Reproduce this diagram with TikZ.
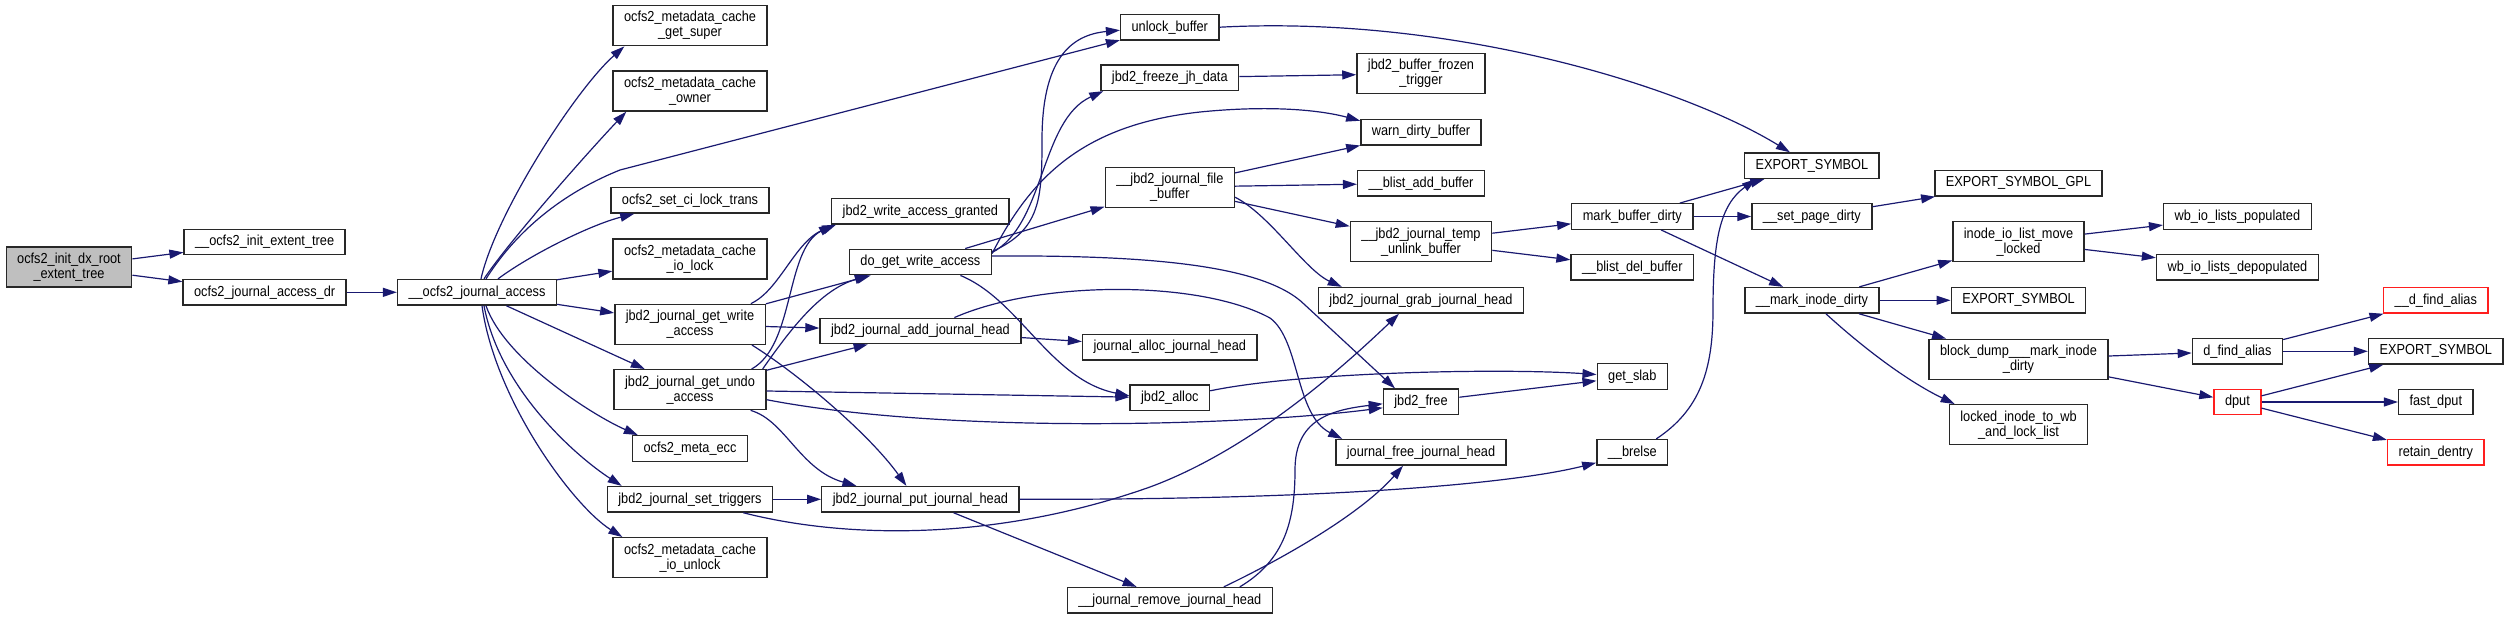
\documentclass[tikz,border=0pt]{standalone}
\usepackage{fontspec}
\newfontfamily\dxfont[FakeStretch=0.88]{Liberation Sans}
\usetikzlibrary{arrows.meta}
\definecolor{EdgeCol} {RGB}{25,25,112}
\definecolor{RootFill}{RGB}{191,191,191}
\definecolor{BoxLine} {RGB}{40,40,40}
\definecolor{RedLine} {RGB}{255,30,30}
\tikzset{
  nd_fn/.style={rectangle,draw=BoxLine,line width=1.4pt,fill=white,inner xsep=11pt,inner ysep=2pt,minimum height=25.5pt,align=center,font=\dxfont\fontsize{14.5}{15}\selectfont},
  nd_two/.style={nd_fn,minimum height=40pt},
  nd_root/.style={nd_two,fill=RootFill},
  nd_red/.style={nd_fn,draw=RedLine},
  arr/.style={draw=EdgeCol,line width=1.2pt,-{Triangle[length=14pt,width=9pt]}},
}
\begin{document}
\begin{tikzpicture}[x=1pt,y=-1pt]

\useasboundingbox (0,0) rectangle (2513,619);
\def\Xa{69}\def\Xb{264.6}\def\Xc{477}\def\Xd{690}\def\Xe{920.4}\def\Xf{1169.8}
\def\Xg{1421}\def\Xh{1632.3}\def\Xi{1811.9}\def\Xj{2018.5}\def\Xk{2237.4}\def\Xl{2435.8}

% ranks 1-3
\node[nd_root] at (\Xa,267)   (INIT){ocfs2\_init\_dx\_root\\\_extent\_tree};
\node[nd_fn]   at (\Xb,242)   (IEXT){\_\_ocfs2\_init\_extent\_tree};
\node[nd_fn]   at (\Xb,292.3) (ADR){ocfs2\_journal\_access\_dr};
\node[nd_fn]   at (\Xc,292.3) (JACC){\_\_ocfs2\_journal\_access};

% rank 4
\node[nd_two]  at (\Xd,25.7)  (GSUP){ocfs2\_metadata\_cache\\\_get\_super};
\node[nd_two]  at (\Xd,91)    (OWN){ocfs2\_metadata\_cache\\\_owner};
\node[nd_fn]   at (\Xd,200.3) (SCI){ocfs2\_set\_ci\_lock\_trans};
\node[nd_two]  at (\Xd,259)   (IOL){ocfs2\_metadata\_cache\\\_io\_lock};
\node[nd_two]  at (\Xd,324.3) (GWA){jbd2\_journal\_get\_write\\\_access};
\node[nd_two]  at (\Xd,389.7) (GUA){jbd2\_journal\_get\_undo\\\_access};
\node[nd_fn]   at (\Xd,448.5) (MECC){ocfs2\_meta\_ecc};
\node[nd_fn]   at (\Xd,499.3) (STR){jbd2\_journal\_set\_triggers};
\node[nd_two]  at (\Xd,557.7) (IOU){ocfs2\_metadata\_cache\\\_io\_unlock};

% rank 5
\node[nd_fn]   at (\Xe,211.3) (WAG){jbd2\_write\_access\_granted};
\node[nd_fn]   at (\Xe,262)   (DGWA){do\_get\_write\_access};
\node[nd_fn]   at (\Xe,331)   (AJH){jbd2\_journal\_add\_journal\_head};
\node[nd_fn]   at (\Xe,499.3) (PJH){jbd2\_journal\_put\_journal\_head};

% rank 6
\node[nd_fn]   at (\Xf,27.2)  (ULB){unlock\_buffer};
\node[nd_fn]   at (\Xf,77.7)  (FJD){jbd2\_freeze\_jh\_data};
\node[nd_two]  at (\Xf,187.2) (JFB){\_\_jbd2\_journal\_file\\\_buffer};
\node[nd_fn]   at (\Xf,347.2) (AJHA){journal\_alloc\_journal\_head};
\node[nd_fn]   at (\Xf,397.8) (JAL){jbd2\_alloc};
\node[nd_fn]   at (\Xf,600.3) (RJH){\_\_journal\_remove\_journal\_head};

% rank 7
\node[nd_two]  at (\Xg,73.7)  (BFT){jbd2\_buffer\_frozen\\\_trigger};
\node[nd_fn]   at (\Xg,132.2) (WDB){warn\_dirty\_buffer};
\node[nd_fn]   at (\Xg,183.2) (BAB){\_\_blist\_add\_buffer};
\node[nd_two]  at (\Xg,241.7) (TUB){\_\_jbd2\_journal\_temp\\\_unlink\_buffer};
\node[nd_fn]   at (\Xg,300.3) (GJH){jbd2\_journal\_grab\_journal\_head};
\node[nd_fn]   at (\Xg,401.8) (JFR){jbd2\_free};
\node[nd_fn]   at (\Xg,452.3) (FJH){journal\_free\_journal\_head};

% rank 8
\node[nd_fn]   at (\Xh,216.5) (MBD){mark\_buffer\_dirty};
\node[nd_fn]   at (\Xh,267.3) (BDB){\_\_blist\_del\_buffer};
\node[nd_fn]   at (\Xh,376.5) (GSL){get\_slab};
\node[nd_fn]   at (\Xh,452.3) (BRL){\_\_brelse};

% rank 9
\node[nd_fn]   at (\Xi,165.7) (EXA){EXPORT\_SYMBOL};
\node[nd_fn]   at (\Xi,216.5) (SPD){\_\_set\_page\_dirty};
\node[nd_fn]   at (\Xi,300.3) (MID){\_\_mark\_inode\_dirty};

% rank 10
\node[nd_fn]   at (\Xj,183.2) (EXG){EXPORT\_SYMBOL\_GPL};
\node[nd_two]  at (\Xj,241.7) (IOM){inode\_io\_list\_move\\\_locked};
\node[nd_fn]   at (\Xj,300.3) (EXB){EXPORT\_SYMBOL};
\node[nd_two]  at (\Xj,359.3) (BDM){block\_dump\_\_\_mark\_inode\\\_dirty};
\node[nd_two]  at (\Xj,424.7) (LIW){locked\_inode\_to\_wb\\\_and\_lock\_list};

% rank 11
\node[nd_fn]   at (\Xk,216.5) (WBP){wb\_io\_lists\_populated};
\node[nd_fn]   at (\Xk,267.3) (WBD){wb\_io\_lists\_depopulated};
\node[nd_fn]   at (\Xk,351.3) (DFA){d\_find\_alias};
\node[nd_red]  at (\Xk,402)   (DPT){dput};

% rank 12
\node[nd_red]  at (\Xl,300.3) (DFB){\_\_d\_find\_alias};
\node[nd_fn]   at (\Xl,351.3) (EXC){EXPORT\_SYMBOL};
\node[nd_fn]   at (\Xl,402)   (FDP){fast\_dput};
\node[nd_red]  at (\Xl,452.3) (RTD){retain\_dentry};

% left part
\draw[arr](INIT)--(IEXT);
\draw[arr](INIT)--(ADR);
\draw[arr](ADR)--(JACC);
\draw[arr]([xshift=4pt]JACC.north) .. controls (495,215) and (575,90) .. ([xshift=12pt]GSUP.south west);
\draw[arr]([xshift=7pt]JACC.north) .. controls (510,240) and (590,150) .. ([xshift=14pt]OWN.south west);
\draw[arr]([xshift=9pt]JACC.north) .. controls (520,225) and (570,190) .. (620,170) -- (ULB);
\draw[arr]([xshift=21pt]JACC.north) .. controls (530,255) and (590,225) .. ([xshift=24pt]SCI.south west);
\draw[arr](JACC)--(IOL);
\draw[arr](JACC)--(GWA);
\draw[arr](JACC)--(GUA);
\draw[arr]([xshift=9pt]JACC.south) .. controls (505,360) and (594,416) .. ([xshift=6pt]MECC.north west);
\draw[arr]([xshift=7pt]JACC.south) .. controls (500,390) and (577,457) .. ([xshift=15pt]STR.north west);
\draw[arr]([xshift=5pt]JACC.south) .. controls (495,400) and (573,506) .. ([xshift=10pt]IOU.north west);

% get_write / get_undo
\draw[arr]([xshift=-15pt]GWA.north east) .. controls (780,290) and (795,241) .. ([xshift=5pt]WAG.south west);
\draw[arr](GWA)--(DGWA);
\draw[arr](GWA)--(AJH);
\draw[arr]([xshift=-14pt]GWA.south east) .. controls (800,375) and (870,435) .. ([xshift=-14pt]PJH.north);
\draw[arr]([xshift=-15pt]GUA.north east) .. controls (795,345) and (785,250) .. ([xshift=2pt]WAG.south west);
\draw[arr]([xshift=-4pt]GUA.north east) .. controls (790,330) and (820,290) .. ([xshift=20pt]DGWA.south west);
\draw[arr](GUA)--(AJH);
\draw[arr](GUA)--(JAL);
\draw[arr]([yshift=-10pt]GUA.east) .. controls (950,435) and (1250,425) .. ([yshift=-6pt]JFR.west);
\draw[arr]([xshift=-16pt]GUA.south east) .. controls (785,420) and (800,470) .. ([xshift=-64pt]PJH.north);
\draw[arr](STR)--(PJH);
\draw[arr]([xshift=-30pt]STR.south east) .. controls (850,540) and (1000,540) .. (1150,487)
  .. controls (1250,450) and (1340,370) .. ([xshift=-22pt]GJH.south);

% put / add / remove journal head
\draw[arr](PJH)--(RJH);
\draw[arr](PJH.east) .. controls (1350,500) and (1520,482) .. ([yshift=3pt]BRL.south west);
\draw[arr]([xshift=70pt]RJH.north) .. controls (1285,560) and (1295,520) .. (1295,470)
  .. controls (1295,420) and (1330,410) .. ([yshift=-2pt]JFR.west);
\draw[arr]([xshift=54pt]RJH.north) .. controls (1280,560) and (1360,515) .. ([xshift=-18pt]FJH.south);
\draw[arr](AJH)--(AJHA);
\draw[arr]([xshift=34pt]AJH.north) .. controls (1040,280) and (1200,280) .. (1270,318)
  .. controls (1300,340) and (1295,415) .. ([xshift=7pt]FJH.north west);

% do_get_write_access
\draw[arr]([yshift=-3pt]DGWA.north east) .. controls (1040,230) and (1042,200) .. (1042,140)
  .. controls (1042,60) and (1070,35) .. ([yshift=-3pt]ULB.west);
\draw[arr]([yshift=-4pt]DGWA.north east) .. controls (1045,225) and (1040,120) .. ([xshift=3pt]FJD.south west);
\draw[arr]([yshift=-5pt]DGWA.north east) .. controls (1030,180) and (1080,125) .. (1200,112)
  .. controls (1270,105) and (1320,110) .. ([yshift=-2pt]WDB.north west);
\draw[arr](DGWA)--(JFB);
\draw[arr]([xshift=40pt]DGWA.south) .. controls (1020,300) and (1050,380) .. ([yshift=2pt]JAL.west);
\draw[arr]([yshift=6pt]DGWA.east) .. controls (1150,255) and (1265,265) .. (1305,305) -- ([xshift=-26pt]JFR.north);

% file buffer, unlock, freeze
\draw[arr](JFB)--(WDB);
\draw[arr](JFB)--(BAB);
\draw[arr](JFB)--(TUB);
\draw[arr]([yshift=-10pt]JFB.east) .. controls (1270,215) and (1305,270) .. ([xshift=24pt]GJH.north west);
\draw[arr](FJD)--(BFT);
\draw[arr](ULB.east) .. controls (1450,15) and (1680,85) .. ([xshift=-22pt]EXA.north);
\draw[arr](TUB)--(MBD);
\draw[arr](TUB)--(BDB);

% right part
\draw[arr](MBD)--(EXA);
\draw[arr](MBD)--(SPD);
\draw[arr](MBD)--(MID);
\draw[arr]([xshift=24pt]BRL.north) .. controls (1700,410) and (1713,370) .. (1713,310)
  .. controls (1713,240) and (1720,205) .. ([xshift=12pt]EXA.south west);
\draw[arr]([yshift=7pt]JAL.east) .. controls (1300,372) and (1500,368) .. ([yshift=2pt]GSL.west);
\draw[arr](JFR)--(GSL);
\draw[arr](SPD)--(EXG);
\draw[arr](MID)--(IOM);
\draw[arr](MID)--(EXB);
\draw[arr](MID)--(BDM);
\draw[arr]([xshift=14pt]MID.south) .. controls (1860,345) and (1905,380) .. ([xshift=6pt]LIW.north west);
\draw[arr](IOM)--(WBP);
\draw[arr](IOM)--(WBD);
\draw[arr](BDM)--(DFA);
\draw[arr](BDM)--(DPT);
\draw[arr](DFA)--(DFB);
\draw[arr](DFA)--(EXC);
\draw[arr](DPT)--(EXC);
\draw[arr](DPT)--(FDP);
\draw[arr](DPT)--(RTD);

\end{tikzpicture}
\end{document}
